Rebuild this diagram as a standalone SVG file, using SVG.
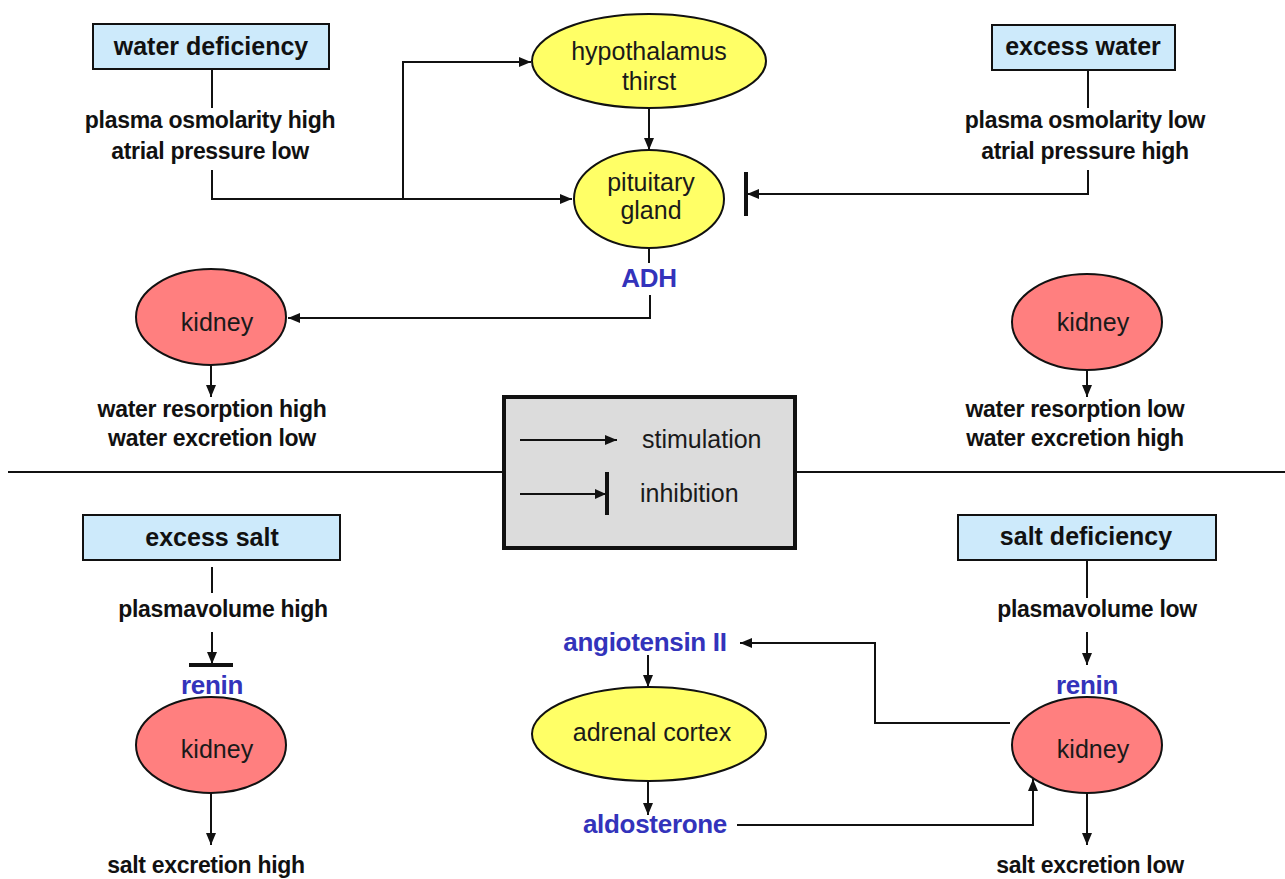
<svg xmlns="http://www.w3.org/2000/svg" width="1285" height="879" viewBox="0 0 1285 879">
<defs>
<style>
.box{fill:#cdeafb;stroke:#111;stroke-width:2}
.yel{fill:#ffff66;stroke:#111;stroke-width:2}
.kid{fill:#ff7f7f;stroke:#111;stroke-width:2}
.leg{fill:#dcdcdc;stroke:#111;stroke-width:4}
.ln{fill:none;stroke:#111;stroke-width:2}
.bar{fill:none;stroke:#111;stroke-width:4}
.arr{fill:none;stroke:#111;stroke-width:2;marker-end:url(#ah)}
.t{font-family:"Liberation Sans",Arial,sans-serif;font-size:25px;fill:#1a1a1a;text-anchor:middle}
.tb{font-family:"Liberation Sans",Arial,sans-serif;font-size:23px;font-weight:bold;fill:#111;text-anchor:middle;letter-spacing:-0.3px}
.th{font-family:"Liberation Sans",Arial,sans-serif;font-size:25px;font-weight:bold;fill:#111;text-anchor:middle}
.tbl{font-family:"Liberation Sans",Arial,sans-serif;font-size:26px;font-weight:bold;fill:#3333bb;text-anchor:middle;letter-spacing:-0.3px}
</style>
<marker id="ah" markerWidth="12" markerHeight="10" refX="12" refY="5" orient="auto" markerUnits="userSpaceOnUse">
<path d="M0,0 L12,5 L0,10 Z" fill="#111"/>
</marker>
</defs>
<rect width="1285" height="879" fill="#fff"/>

<g id="connectors">
<line class="ln" x1="212" y1="69" x2="212" y2="108"/>
<polyline class="arr" points="212,170 212,199 572,199"/>
<polyline class="arr" points="403,199 403,62 531,62"/>
<line class="arr" x1="649" y1="108" x2="649" y2="150"/>
<line class="ln" x1="1088" y1="70" x2="1088" y2="108"/>
<polyline class="arr" points="1088,170 1088,194 747,194"/>
<line class="bar" x1="746" y1="172" x2="746" y2="216"/>
<line class="ln" x1="649" y1="248" x2="649" y2="263"/>
<polyline class="arr" points="650,295 650,318 288,318"/>
<line class="arr" x1="211" y1="365" x2="211" y2="397"/>
<line class="arr" x1="1087" y1="370" x2="1087" y2="397"/>
<line class="ln" x1="8" y1="472" x2="503" y2="472"/>
<line class="ln" x1="795" y1="472" x2="1285" y2="472"/>
<line class="ln" x1="212" y1="567" x2="212" y2="593"/>
<line class="arr" x1="212" y1="632" x2="212" y2="664"/>
<line class="bar" x1="189" y1="665" x2="233" y2="665"/>
<line class="arr" x1="211" y1="793" x2="211" y2="845"/>
<line class="ln" x1="1087" y1="560" x2="1087" y2="598"/>
<line class="arr" x1="1087" y1="632" x2="1087" y2="665"/>
<line class="arr" x1="1087" y1="793" x2="1087" y2="845"/>
<polyline class="arr" points="1010,723 875,723 875,643 740,643"/>
<line class="arr" x1="648" y1="655" x2="648" y2="687"/>
<line class="arr" x1="648" y1="782" x2="648" y2="815"/>
<polyline class="arr" points="737,825 1033,825 1033,779"/>
</g>

<g id="water-deficiency">
<rect class="box" x="93" y="24" width="236" height="45"/>
<text class="th" x="211" y="55">water deficiency</text>
</g>
<g id="water-def-cond">
<text class="tb" x="210" y="128">plasma osmolarity high</text>
<text class="tb" x="210" y="159">atrial pressure low</text>
</g>
<g id="excess-water">
<rect class="box" x="992" y="25" width="183" height="45"/>
<text class="th" x="1083" y="55">excess water</text>
</g>
<g id="excess-water-cond">
<text class="tb" x="1085" y="128">plasma osmolarity low</text>
<text class="tb" x="1085" y="159">atrial pressure high</text>
</g>
<g id="hypothalamus">
<ellipse class="yel" cx="649" cy="61" rx="117" ry="47"/>
<text class="t" x="649" y="60">hypothalamus</text>
<text class="t" x="649" y="90">thirst</text>
</g>
<g id="pituitary">
<ellipse class="yel" cx="649" cy="199" rx="75" ry="49"/>
<text class="t" x="651" y="191">pituitary</text>
<text class="t" x="651" y="219">gland</text>
</g>
<g id="adh">
<text class="tbl" x="649" y="287">ADH</text>
</g>
<g id="kidney-water-def">
<ellipse class="kid" cx="211" cy="317" rx="75" ry="48"/>
<text class="t" x="217" y="331">kidney</text>
</g>
<g id="kidney-excess-water">
<ellipse class="kid" cx="1087" cy="322" rx="75" ry="48"/>
<text class="t" x="1093" y="331">kidney</text>
</g>
<g id="water-def-result">
<text class="tb" x="212" y="417">water resorption high</text>
<text class="tb" x="212" y="446">water excretion low</text>
</g>
<g id="excess-water-result">
<text class="tb" x="1075" y="417">water resorption low</text>
<text class="tb" x="1075" y="446">water excretion high</text>
</g>

<g id="legend">
<rect class="leg" x="504" y="397" width="291" height="151"/>
<line class="arr" x1="520" y1="440" x2="617" y2="440"/>
<text class="t" x="642" y="448" style="text-anchor:start">stimulation</text>
<line class="ln" x1="520" y1="494" x2="605" y2="494"/>
<path d="M595,489 L606,494 L595,499 Z" fill="#111"/>
<line class="bar" x1="607" y1="472" x2="607" y2="515"/>
<text class="t" x="640" y="502" style="text-anchor:start">inhibition</text>
</g>

<g id="excess-salt">
<rect class="box" x="83" y="515" width="257" height="45"/>
<text class="th" x="212" y="546">excess salt</text>
</g>
<g id="excess-salt-cond">
<text class="tb" x="223" y="617">plasmavolume high</text>
</g>
<g id="renin-left">
<text class="tbl" x="212" y="694">renin</text>
</g>
<g id="kidney-excess-salt">
<ellipse class="kid" cx="211" cy="745" rx="75" ry="48"/>
<text class="t" x="217" y="758">kidney</text>
</g>
<g id="excess-salt-result">
<text class="tb" x="206" y="873">salt excretion high</text>
</g>

<g id="salt-deficiency">
<rect class="box" x="958" y="515" width="258" height="45"/>
<text class="th" x="1086" y="545">salt deficiency</text>
</g>
<g id="salt-def-cond">
<text class="tb" x="1097" y="617">plasmavolume low</text>
</g>
<g id="renin-right">
<text class="tbl" x="1087" y="694">renin</text>
</g>
<g id="kidney-salt-def">
<ellipse class="kid" cx="1087" cy="745" rx="75" ry="48"/>
<text class="t" x="1093" y="758">kidney</text>
</g>
<g id="salt-def-result">
<text class="tb" x="1090" y="873">salt excretion low</text>
</g>

<g id="angiotensin">
<text class="tbl" x="645" y="651">angiotensin II</text>
</g>
<g id="adrenal-cortex">
<ellipse class="yel" cx="649" cy="734" rx="117" ry="47"/>
<text class="t" x="652" y="741">adrenal cortex</text>
</g>
<g id="aldosterone">
<text class="tbl" x="655" y="833">aldosterone</text>
</g>
</svg>
